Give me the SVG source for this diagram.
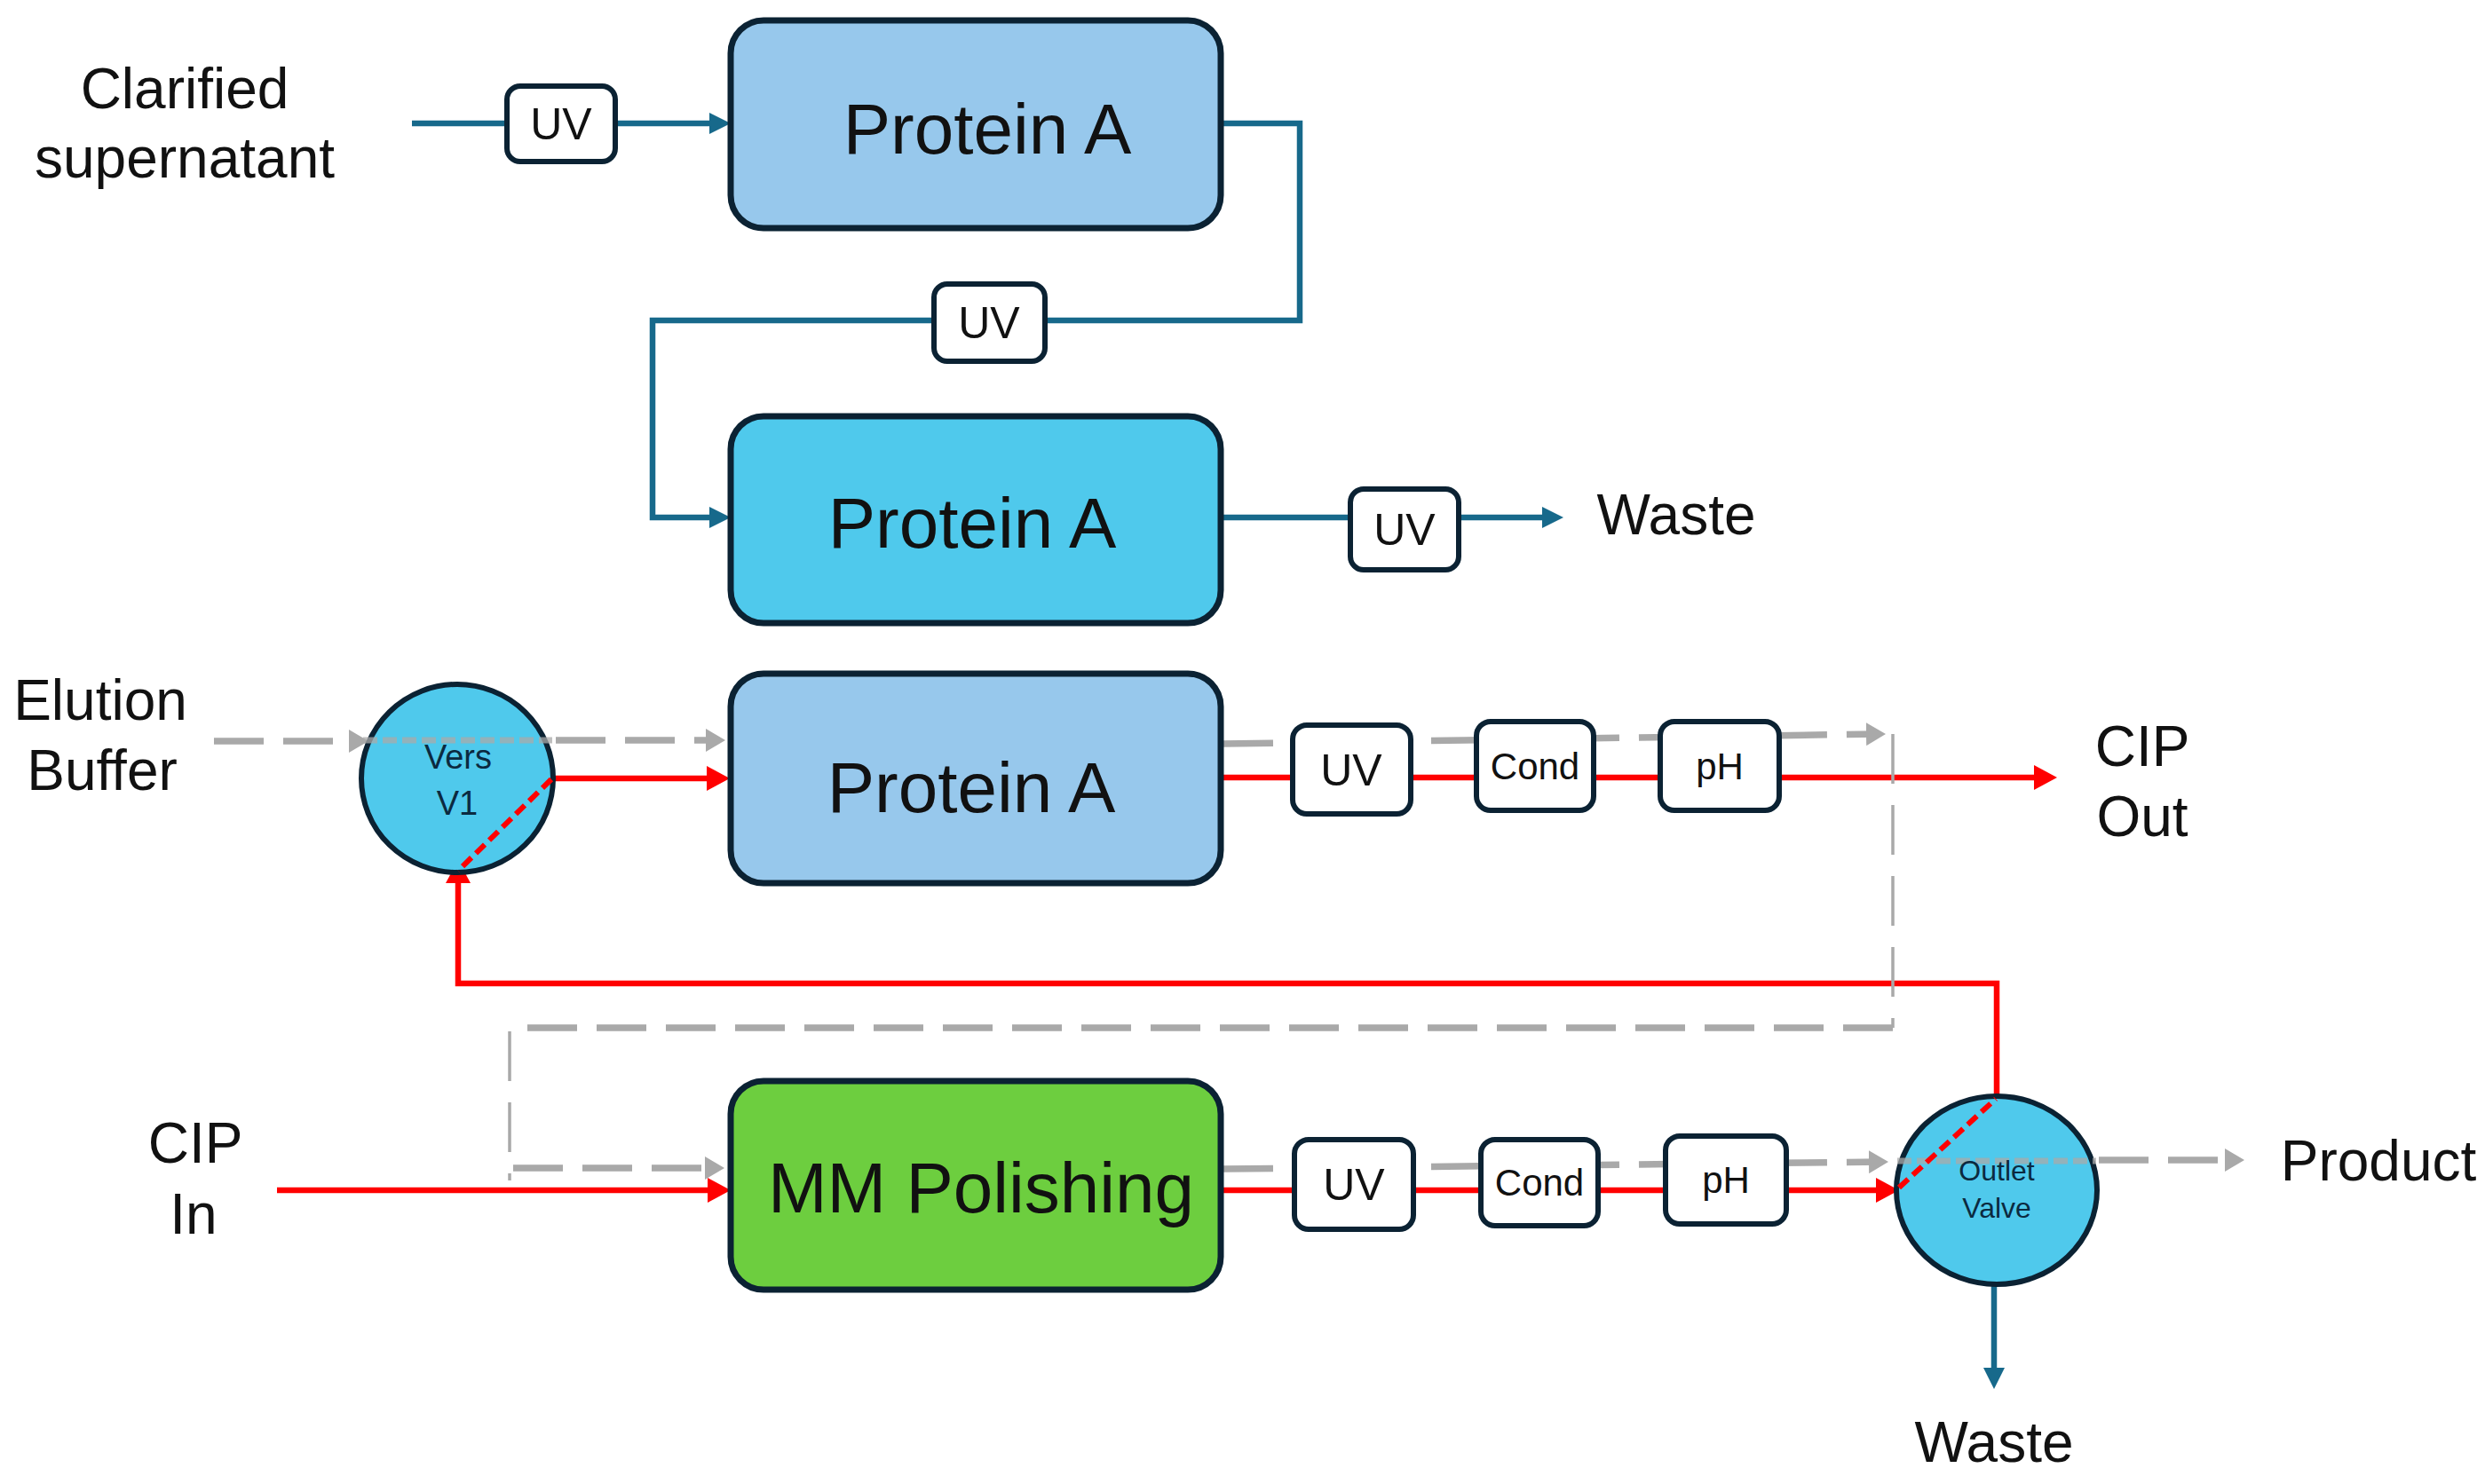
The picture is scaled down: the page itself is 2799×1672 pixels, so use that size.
<svg xmlns="http://www.w3.org/2000/svg" width="2799" height="1672" viewBox="0 0 2799 1672">
  <style>
    text { font-family: "Liberation Sans", Arial, sans-serif; fill: #111111; }
    .label { font-size: 64px; text-anchor: middle; }
    .col { stroke: #0B2233; stroke-width: 7; }
    .colText { font-size: 80px; text-anchor: middle; }
    .sensor { fill: #FFFFFF; stroke: #0B2233; stroke-width: 6; }
    .uvText { font-size: 50px; text-anchor: middle; }
    .smText { font-size: 42px; text-anchor: middle; }
    .valve { fill: #4FC9EC; stroke: #0B2233; stroke-width: 6; }
    .valveText { text-anchor: middle; fill: #0B2A40; }
    .teal { fill: none; stroke: #17698B; stroke-width: 6.5; }
    .red { fill: none; stroke: #FF0000; stroke-width: 6.5; }
    .grey { fill: none; stroke: #A9A9A9; stroke-width: 7.5; stroke-dasharray: 56 22; }
    .greyThin { fill: none; stroke: #A9A9A9; stroke-width: 3.5; stroke-dasharray: 56 24; }
    .greyIn { fill: none; stroke: #A9A9A9; stroke-width: 7; stroke-dasharray: 16 6; opacity: 0.75; }
    .redDash { fill: none; stroke: #FF0000; stroke-width: 6; stroke-dasharray: 14 7; }
  </style>
  <defs>
    <marker id="ah-teal" markerUnits="userSpaceOnUse" markerWidth="24" markerHeight="24" viewBox="0 0 24 24" refX="16" refY="12" orient="auto">
      <path d="M0,0 L24,12 L0,24 z" fill="#17698B"/>
    </marker>
    <marker id="ah-red" markerUnits="userSpaceOnUse" markerWidth="26" markerHeight="28" viewBox="0 0 26 28" refX="18" refY="14" orient="auto">
      <path d="M0,0 L26,14 L0,28 z" fill="#FF0000"/>
    </marker>
    <marker id="ah-grey" markerUnits="userSpaceOnUse" markerWidth="22" markerHeight="26" viewBox="0 0 22 26" refX="14" refY="13" orient="auto">
      <path d="M0,0 L22,13 L0,26 z" fill="#A9A9A9"/>
    </marker>
  </defs>

  <rect x="0" y="0" width="2799" height="1672" fill="#FFFFFF"/>

  <g id="connectors">
    <!-- teal flow -->
    <path class="teal" d="M464,139 H815" marker-end="url(#ah-teal)"/>
    <path class="teal" d="M1375,139 H1464 V361 H735 V583 H815" marker-end="url(#ah-teal)"/>
    <path class="teal" d="M1375,583 H1753" marker-end="url(#ah-teal)"/>
    <path class="teal" d="M2246,1447 V1557" marker-end="url(#ah-teal)"/>
    <!-- red CIP flow -->
    <path class="red" d="M623,877 H814" marker-end="url(#ah-red)"/>
    <path class="red" d="M1375,876 H2309" marker-end="url(#ah-red)"/>
    <path class="red" d="M2249,1237 V1108 H516 V977" marker-end="url(#ah-red)"/>
    <path class="red" d="M312,1341 H815" marker-end="url(#ah-red)"/>
    <path class="red" d="M1375,1341 H2131" marker-end="url(#ah-red)"/>
    <!-- grey dashed elution flow -->
    <path class="grey" d="M241,835 H407" marker-end="url(#ah-grey)"/>
    <path class="grey" d="M626,834 H809" marker-end="url(#ah-grey)"/>
    <path class="grey" d="M1378,838 L2116,827" marker-end="url(#ah-grey)"/>
    <path class="greyThin" d="M2132,827 V1158"/>
    <path class="grey" d="M2132,1158 H574"/>
    <path class="greyThin" d="M574,1162 V1330"/>
    <path class="grey" d="M578,1316 H808" marker-end="url(#ah-grey)"/>
    <path class="grey" d="M1378,1317 L2119,1309" marker-end="url(#ah-grey)"/>
    <path class="grey" d="M2364,1307 H2520" marker-end="url(#ah-grey)"/>
  </g>

  <g id="labels">
    <text class="label" x="208" y="122">Clarified</text>
    <text class="label" x="208" y="200">supernatant</text>
    <text class="label" x="113" y="811">Elution</text>
    <text class="label" x="115" y="890">Buffer</text>
    <text class="label" x="220" y="1310">CIP</text>
    <text class="label" x="218" y="1390">In</text>
    <text class="label" x="2413" y="863">CIP</text>
    <text class="label" x="2413" y="942">Out</text>
    <text class="label" x="1888" y="602">Waste</text>
    <text class="label" x="2679" y="1330">Product</text>
    <text class="label" x="2246" y="1647">Waste</text>
  </g>

  <g id="proteinA-1">
    <rect class="col" x="823" y="23" width="552" height="234" rx="37" fill="#97C8EC"/>
    <text class="colText" x="1112" y="173">Protein A</text>
  </g>
  <g id="proteinA-2">
    <rect class="col" x="823" y="469" width="552" height="233" rx="37" fill="#4FC9EC"/>
    <text class="colText" x="1095" y="617">Protein A</text>
  </g>
  <g id="proteinA-3">
    <rect class="col" x="823" y="759" width="552" height="236" rx="37" fill="#97C8EC"/>
    <text class="colText" x="1094" y="915">Protein A</text>
  </g>
  <g id="mm-polishing">
    <rect class="col" x="823" y="1218" width="552" height="235" rx="37" fill="#6DCE3F"/>
    <text class="colText" x="1105" y="1366">MM Polishing</text>
  </g>

  <g id="uv-1">
    <rect class="sensor" x="571" y="97" width="122" height="85" rx="15"/>
    <text class="uvText" x="632" y="157">UV</text>
  </g>
  <g id="uv-2">
    <rect class="sensor" x="1052" y="320" width="125" height="87" rx="15"/>
    <text class="uvText" x="1114" y="381">UV</text>
  </g>
  <g id="uv-3">
    <rect class="sensor" x="1521" y="551" width="122" height="91" rx="15"/>
    <text class="uvText" x="1582" y="614">UV</text>
  </g>
  <g id="uv-4">
    <rect class="sensor" x="1456" y="817" width="133" height="100" rx="16"/>
    <text class="uvText" x="1522" y="885">UV</text>
  </g>
  <g id="cond-1">
    <rect class="sensor" x="1663" y="813" width="132" height="100" rx="16"/>
    <text class="smText" x="1729" y="878">Cond</text>
  </g>
  <g id="ph-1">
    <rect class="sensor" x="1870" y="813" width="134" height="100" rx="16"/>
    <text class="smText" x="1937" y="878">pH</text>
  </g>
  <g id="uv-5">
    <rect class="sensor" x="1458" y="1284" width="134" height="101" rx="16"/>
    <text class="uvText" x="1525" y="1352">UV</text>
  </g>
  <g id="cond-2">
    <rect class="sensor" x="1668" y="1284" width="132" height="97" rx="16"/>
    <text class="smText" x="1734" y="1347">Cond</text>
  </g>
  <g id="ph-2">
    <rect class="sensor" x="1876" y="1280" width="136" height="99" rx="16"/>
    <text class="smText" x="1944" y="1344">pH</text>
  </g>

  <g id="valve-v1">
    <ellipse class="valve" cx="515" cy="877" rx="108" ry="106"/>
    <path class="greyIn" d="M409,834 H622"/>
    <path class="redDash" d="M621,878 L516,981"/>
    <text class="valveText" x="516" y="866" font-size="38">Vers</text>
    <text class="valveText" x="515" y="918" font-size="38">V1</text>
  </g>

  <g id="outlet-valve">
    <ellipse class="valve" cx="2249" cy="1341" rx="113" ry="106"/>
    <path class="greyIn" d="M2137,1308 H2361"/>
    <path class="redDash" d="M2139,1338 L2248,1238"/>
    <text class="valveText" x="2249" y="1330" font-size="32">Outlet</text>
    <text class="valveText" x="2249" y="1372" font-size="32">Valve</text>
  </g>
</svg>
